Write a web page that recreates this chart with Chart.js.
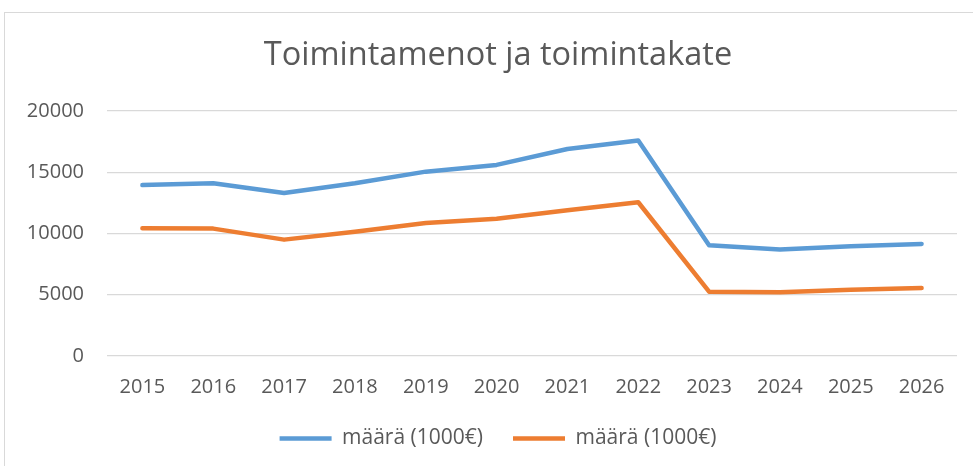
<!DOCTYPE html>
<html>
<head>
<meta charset="utf-8">
<script src="https://cdn.jsdelivr.net/npm/chart.js@4"></script>
<style>
    html, body { margin: 0; padding: 0; background: #fff; overflow: hidden; }
    #box {
        position: absolute;
        left: 4px;
        top: 12px;
        width: 986px;
        height: 455px;
        border: 1px solid #d9d9d9;
    }
</style>
</head>
<body>
<div id="box"><canvas id="chart" width="986" height="455"></canvas></div>
<script>
// Chart data
const years = ['2015', '2016', '2017', '2018', '2019', '2020', '2021', '2022', '2023', '2024', '2025', '2026'];
const toimintamenot = [13950, 14100, 13300, 14100, 15050, 15600, 16900, 17600, 9050, 8700, 8950, 9150];
const toimintakate = [10430, 10400, 9500, 10150, 10850, 11200, 11900, 12550, 5250, 5200, 5400, 5550];
const seriesNames = ['määrä (1000€)', 'määrä (1000€)'];
const yTicks = [0, 5000, 10000, 15000, 20000];

const TEXT_COLOR = '#595959';
const GRID_COLOR = '#d9d9d9';
const FONT = '"Open Sans", sans-serif';

const ctx = document.getElementById('chart').getContext('2d');
const chart = new Chart(ctx, {
    type: 'line',
    data: {
        labels: years,
        datasets: [
            {
                label: seriesNames[0],
                data: toimintamenot,
                borderColor: '#5b9bd5',
                backgroundColor: '#5b9bd5',
                borderWidth: 4.5,
                borderCapStyle: 'round',
                borderJoinStyle: 'round',
                pointRadius: 0,
                tension: 0
            },
            {
                label: seriesNames[1],
                data: toimintakate,
                borderColor: '#ed7d31',
                backgroundColor: '#ed7d31',
                borderWidth: 4.5,
                borderCapStyle: 'round',
                borderJoinStyle: 'round',
                pointRadius: 0,
                tension: 0
            }
        ]
    },
    options: {
        responsive: false,
        animation: false,
        layout: {
            padding: { left: 0, right: 0, top: 0, bottom: 9 }
        },
        plugins: {
            title: {
                display: true,
                text: 'Toimintamenot ja toimintakate',
                color: TEXT_COLOR,
                font: { family: FONT, size: 32.5, weight: 'normal' },
                padding: { top: 23, bottom: 36 }
            },
            legend: {
                position: 'bottom',
                labels: {
                    color: TEXT_COLOR,
                    font: { family: FONT, size: 21 },
                    usePointStyle: true,
                    pointStyle: 'line',
                    pointStyleWidth: 52,
                    padding: 30
                }
            },
            tooltip: { enabled: false }
        },
        scales: {
            x: {
                offset: true,
                afterFit: (scale) => { scale.height = 42; },
                grid: { display: false, drawTicks: false },
                border: { display: false },
                ticks: {
                    color: TEXT_COLOR,
                    font: { family: FONT, size: 20 },
                    padding: 19,
                    maxRotation: 0
                }
            },
            y: {
                min: yTicks[0],
                max: yTicks[yTicks.length - 1],
                afterFit: (scale) => { scale.width = 102; },
                afterBuildTicks: (scale) => {
                    scale.ticks = yTicks.map(v => ({ value: v }));
                },
                grid: { color: GRID_COLOR, lineWidth: 1.2, drawTicks: false },
                border: { display: false },
                ticks: {
                    color: TEXT_COLOR,
                    font: { family: FONT, size: 20 },
                    padding: 23,
                    callback: (v) => String(v)
                }
            },
            // empty right margin so the title and legend sit where they do in the original
            yRight: {
                type: 'linear',
                position: 'right',
                min: 0,
                max: 1,
                afterFit: (scale) => { scale.width = 34; },
                grid: { display: false, drawTicks: false },
                border: { display: false },
                ticks: { display: false }
            }
        }
    }
});
</script>
</body>
</html>
